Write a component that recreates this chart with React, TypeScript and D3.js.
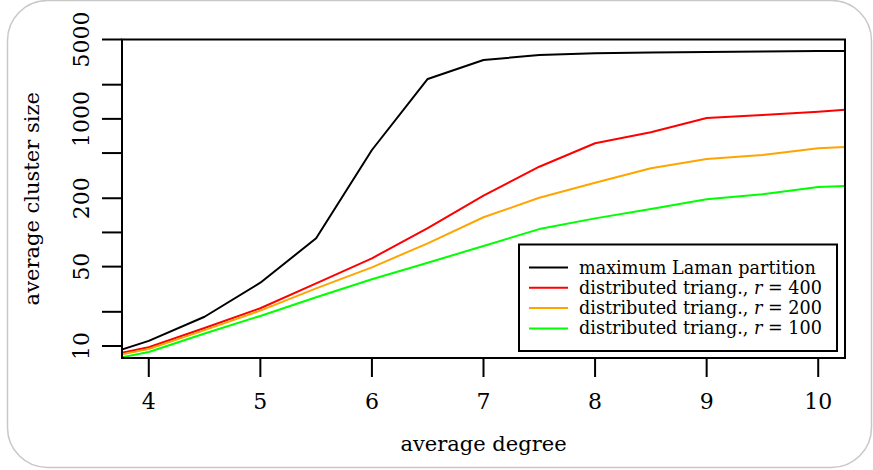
import React, { useEffect, useRef } from 'react';
import * as d3 from 'd3';

// average degree (x) and average cluster size per method
const degree = [3.5, 4, 4.5, 5, 5.5, 6, 6.5, 7, 7.5, 8, 8.5, 9, 9.5, 10, 10.5];
const laman = [7.7, 11.1, 18.1, 36.1, 88.8, 532, 2245, 3300, 3650, 3780, 3845, 3880, 3920, 3960, 3970];
const triang400 = [7.69, 9.74, 14.4, 21.5, 35.6, 59.2, 109, 211, 379, 610, 762, 1018, 1082, 1157, 1254];
const triang200 = [7.53, 9.41, 13.8, 20.5, 32.2, 49.3, 80.2, 136, 202, 274, 367, 443, 481, 551, 581];
const triang100 = [7.1, 8.85, 12.9, 18.4, 26.9, 38.7, 54.1, 76, 107, 133, 161, 196, 217, 251, 262];

const xTicks = [4, 5, 6, 7, 8, 9, 10];
const yTicks = [10, 20, 50, 100, 200, 500, 1000, 2000, 5000];
const yLabels = [10, 50, 200, 1000, 5000];

const seriesNames = ['maximum Laman partition', 'distributed triang.', 'distributed triang.', 'distributed triang.'];
const seriesR = [null, '400', '200', '100'];
const seriesColors = ['#000000', '#ff0000', '#ffa500', '#00ff00'];
const seriesValues = [laman, triang400, triang200, triang100];

const FONT = '"DejaVu Serif", serif';

export default function App() {
  const ref = useRef<SVGSVGElement>(null);

  useEffect(() => {
    const svg = d3.select(ref.current);
    svg.selectAll('*').remove();

    const left = 122, right = 845, top = 39.5, bottom = 358;

    const x = d3.scaleLinear().domain([3.76, 10.24]).range([left, right]);
    const y = d3.scaleLog().domain([7.84, 5000]).range([bottom, top]);

    // rounded frame round the figure
    svg.append('rect')
      .attr('x', 7.5).attr('y', 0.5)
      .attr('width', 864).attr('height', 467)
      .attr('rx', 40)
      .attr('fill', 'white')
      .attr('stroke', '#c8c8c8')
      .attr('stroke-width', 1.5);

    svg.append('clipPath').attr('id', 'plotclip')
      .append('rect')
      .attr('x', left).attr('y', top)
      .attr('width', right - left).attr('height', bottom - top);

    const line = d3.line<number>()
      .x((d, i) => x(degree[i]))
      .y(d => y(d));

    const lines = svg.append('g').attr('clip-path', 'url(#plotclip)');
    seriesValues.forEach((vals, k) => {
      lines.append('path')
        .attr('d', line(vals))
        .attr('fill', 'none')
        .attr('stroke', seriesColors[k])
        .attr('stroke-width', 2)
        .attr('stroke-linejoin', 'round');
    });

    // plot box
    svg.append('rect')
      .attr('x', left).attr('y', top)
      .attr('width', right - left).attr('height', bottom - top)
      .attr('fill', 'none')
      .attr('stroke', 'black')
      .attr('stroke-width', 2);

    // x axis
    const xg = svg.append('g');
    xTicks.forEach(t => {
      xg.append('line')
        .attr('x1', x(t)).attr('x2', x(t))
        .attr('y1', bottom).attr('y2', bottom + 19)
        .attr('stroke', 'black').attr('stroke-width', 2);
      xg.append('text')
        .attr('x', x(t)).attr('y', 409)
        .attr('text-anchor', 'middle')
        .style('font-family', FONT).style('font-size', '22px')
        .text(t);
    });

    // y axis
    const yg = svg.append('g');
    yTicks.forEach(t => {
      yg.append('line')
        .attr('x1', left - 20).attr('x2', left)
        .attr('y1', y(t)).attr('y2', y(t))
        .attr('stroke', 'black').attr('stroke-width', 2);
    });
    yLabels.forEach(t => {
      yg.append('text')
        .attr('transform', `translate(89,${y(t)}) rotate(-90)`)
        .attr('text-anchor', 'middle')
        .style('font-family', FONT).style('font-size', '22px')
        .text(t);
    });

    svg.append('text')      // x axis title
      .attr('x', (left + right) / 2).attr('y', 451)
      .attr('text-anchor', 'middle')
      .style('font-family', FONT).style('font-size', '21px')
      .text('average degree');

    svg.append('text')      // y axis title
      .attr('transform', `translate(39,${(top + bottom) / 2}) rotate(-90)`)
      .attr('text-anchor', 'middle')
      .style('font-family', FONT).style('font-size', '21px')
      .text('average cluster size');

    // legend
    const lg = svg.append('g');
    lg.append('rect')
      .attr('x', 519).attr('y', 244.5)
      .attr('width', 318).attr('height', 106.5)
      .attr('fill', 'white')
      .attr('stroke', 'black')
      .attr('stroke-width', 2);

    seriesNames.forEach((name, k) => {
      const ry = 267.5 + k * 20.3;
      lg.append('line')
        .attr('x1', 529).attr('x2', 568)
        .attr('y1', ry).attr('y2', ry)
        .attr('stroke', seriesColors[k]).attr('stroke-width', 2);
      const txt = lg.append('text')
        .attr('x', 579).attr('y', ry + 6)
        .style('font-family', FONT).style('font-size', '17.6px');
      if (seriesR[k] === null) {
        txt.text(name);
      } else {
        txt.append('tspan').text(name + ', ');
        txt.append('tspan').style('font-style', 'italic').text('r');
        txt.append('tspan').text(' = ' + seriesR[k]);
      }
    });
  }, []);

  return (
    <svg ref={ref} width={873} height={470}
      style={{ position: 'absolute', left: 0, top: 0 }} />
  );
}
